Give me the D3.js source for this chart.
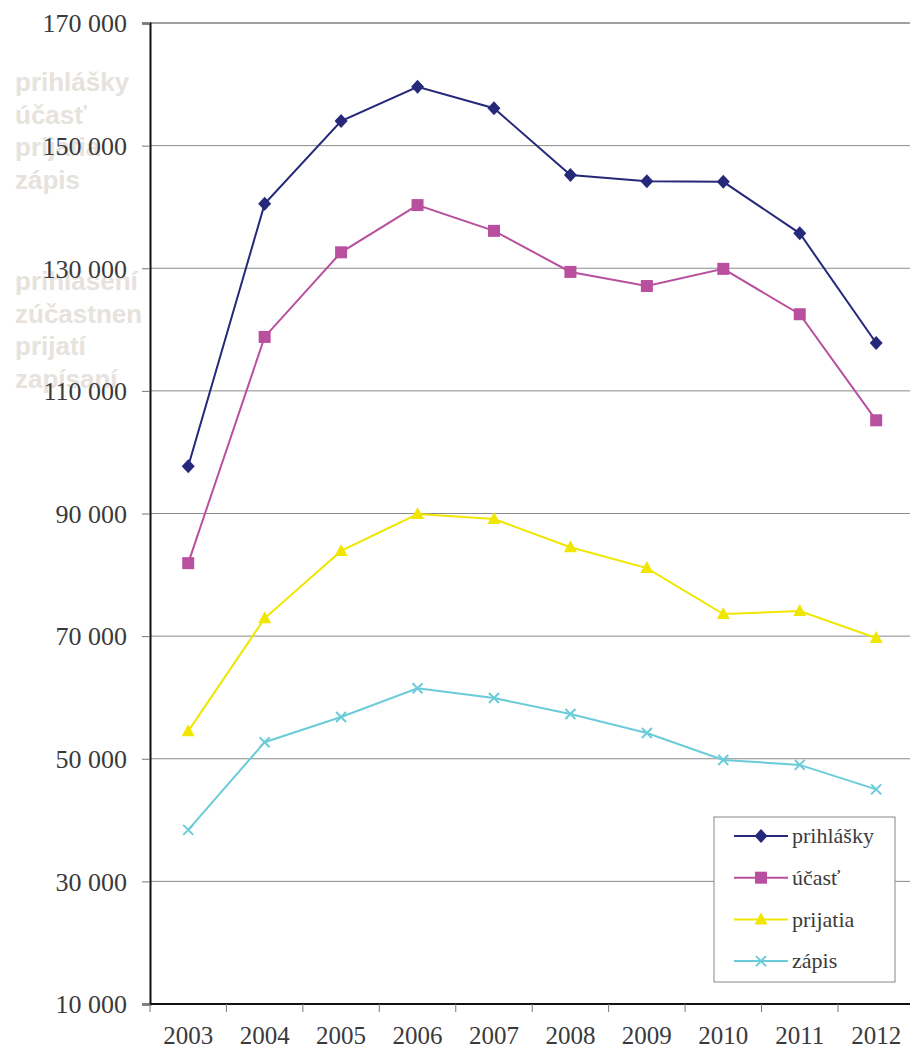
<!DOCTYPE html>
<html><head><meta charset="utf-8">
<script src="https://cdn.jsdelivr.net/npm/d3@7"></script>
<style>body{margin:0;background:#fff}svg{display:block}</style>
</head><body>
<svg id="c" width="910" height="1050"></svg>
<script>
const years = ["2003","2004","2005","2006","2007","2008","2009","2010","2011","2012"];
const prihlasky = [97700,140500,154000,159600,156100,145200,144200,144100,135700,117800];
const ucast = [81900,118800,132600,140300,136100,129400,127100,129900,122500,105200];
const prijatia = [54500,72900,83900,89900,89100,84500,81100,73600,74100,69700];
const zapis = [38400,52700,56800,61500,59900,57300,54200,49800,49000,45000];
const seriesNames = ["prihlášky","účasť","prijatia","zápis"];
const yTicks = [10000,30000,50000,70000,90000,110000,130000,150000,170000];
const ghost1 = ["prihlášky","účasť","prijatia","zápis"];
const ghost2 = ["prihlásení","zúčastnení","prijatí","zapísaní"];

const colors = ["#26287a","#b94f9f","#f0e600","#6acbd9"];
const symbols = ["diamond","square","triangle","x"];
const series = [prihlasky, ucast, prijatia, zapis].map((v,i)=>({name:seriesNames[i], values:v, color:colors[i], sym:symbols[i]}));

const svg = d3.select("#c");
const x = d3.scaleBand().domain(years).range([150, 914.4]).paddingInner(0).paddingOuter(0);
const y = d3.scaleLinear().domain([10000,170000]).range([1004,23]);
const fmt = v => d3.format(",")(v).replace(/,/g," ");
const serif = "'Liberation Serif','Times New Roman',serif";

// ghost text
svg.append("clipPath").attr("id","gc").append("rect").attr("x",0).attr("y",0).attr("width",143).attr("height",1050);
const g = svg.append("g").attr("clip-path","url(#gc)")
  .attr("font-family","'Liberation Sans',Arial,sans-serif").attr("font-weight","bold").attr("font-size",26).attr("fill","#e6e2dd");
ghost1.forEach((t,i)=>g.append("text").attr("x",15).attr("y",91+i*32.5).text(t));
ghost2.forEach((t,i)=>g.append("text").attr("x",15).attr("y",290+i*32.5).text(t));

// gridlines
svg.append("g").selectAll("line").data(yTicks.filter(d=>d>10000)).join("line")
  .attr("x1",150).attr("x2",910).attr("y1",d=>y(d)).attr("y2",d=>y(d))
  .attr("stroke",d=>d===170000?"#808080":"#8a8a8a").attr("stroke-width",d=>d===170000?1.6:1);

// y axis
const ya = svg.append("g").attr("transform","translate(150,0)")
  .call(d3.axisLeft(y).tickValues(yTicks).tickFormat(fmt).tickSize(8).tickPadding(15));
ya.select(".domain").attr("stroke","#111").attr("stroke-width",2);
ya.selectAll(".tick line").attr("stroke","#777");
ya.selectAll(".tick text").attr("font-family",serif).attr("font-size",26).attr("fill","#3a3a3a").attr("dy","0.34em");

// x axis
const xa = svg.append("g").attr("transform","translate(0,1004)")
  .call(d3.axisBottom(x).tickSize(0).tickPadding(22));
xa.select(".domain").remove();
xa.selectAll(".tick text").attr("font-family",serif).attr("font-size",25).attr("fill","#3a3a3a");
svg.append("line").attr("x1",150).attr("x2",910).attr("y1",y(10000)).attr("y2",y(10000)).attr("stroke","#111").attr("stroke-width",2);
svg.append("g").selectAll("line").data(years).join("line")
  .attr("x1",d=>x(d)).attr("x2",d=>x(d)).attr("y1",1004).attr("y2",1012).attr("stroke","#777");

// symbols
function drawSym(sel, sym, color, cx, cy){
  if(sym==="diamond") sel.append("path").attr("d",`M${cx},${cy-7}L${cx+6.5},${cy}L${cx},${cy+7}L${cx-6.5},${cy}Z`).attr("fill",color);
  else if(sym==="square") sel.append("rect").attr("x",cx-6).attr("y",cy-6).attr("width",12).attr("height",12).attr("fill",color);
  else if(sym==="triangle") sel.append("path").attr("d",`M${cx},${cy-7}L${cx+6.5},${cy+5}L${cx-6.5},${cy+5}Z`).attr("fill",color);
  else sel.append("path").attr("d",`M${cx-5},${cy-5}L${cx+5},${cy+5}M${cx+5},${cy-5}L${cx-5},${cy+5}`).attr("stroke",color).attr("stroke-width",2);
}

const line = d3.line().x((d,i)=>x(years[i])+x.bandwidth()/2).y(d=>y(d));
series.forEach(s=>{
  const gs = svg.append("g");
  gs.append("path").attr("d",line(s.values)).attr("fill","none").attr("stroke",s.color).attr("stroke-width",2);
  s.values.forEach((v,i)=>drawSym(gs, s.sym, s.color, x(years[i])+x.bandwidth()/2, y(v)));
});

// legend
const lg = svg.append("g");
lg.append("rect").attr("x",714).attr("y",817).attr("width",181).attr("height",165).attr("fill","#fff").attr("stroke","#888").attr("stroke-width",1);
series.forEach((s,i)=>{
  const cy = 836 + i*41.7;
  lg.append("line").attr("x1",734).attr("x2",788).attr("y1",cy).attr("y2",cy).attr("stroke",s.color).attr("stroke-width",2);
  drawSym(lg, s.sym, s.color, 761, cy);
  lg.append("text").attr("x",792).attr("y",cy).attr("dy","0.33em").attr("font-family",serif).attr("font-size",22).attr("fill","#3a3a3a").text(s.name);
});
</script>
</body></html>
